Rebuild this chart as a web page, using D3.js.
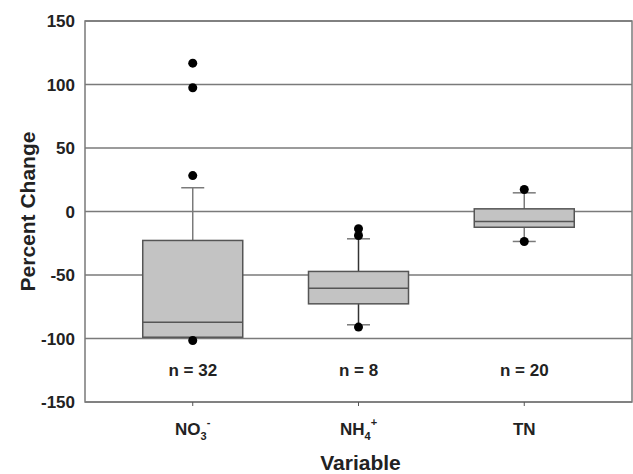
<!DOCTYPE html>
<html>
<head>
    <meta charset="UTF-8">
    <title>Percent Change box plot</title>
    <script src="https://d3js.org/d3.v7.min.js"></script>
    <style type="text/css">
        body { margin: 0; background: white; }
        text { font-family: "Liberation Sans", Arial, sans-serif; font-weight: bold; fill: #222; }
    </style>
</head>
<body>
    <svg id="chart"></svg>

    <script>
        const width = 633;
        const height = 474;
        const margins = { top: 21, bottom: 72, left: 85, right: 1 };

        // data
        const categories = ["NO3", "NH4", "TN"];
        const nLabels = ["n = 32", "n = 8", "n = 20"];
        const q1 = [-99, -72.7, -12.4];
        const median = [-87.2, -60.4, -7.9];
        const q3 = [-22.8, -47.2, 2.1];
        const whiskerLow = [-99, -89.2, -23.6];
        const whiskerHigh = [18.7, -21.5, 14.7];
        const outliers = [
            [116.8, 97.4, 28.3, -101.6],
            [-13.6, -18.9, -91],
            [17.3, -23.6]
        ];
        const yTicks = [-150, -100, -50, 0, 50, 100, 150];

        const svg = d3.select("#chart")
            .attr("width", width)
            .attr("height", height);

        const x = d3.scalePoint()
            .domain(categories)
            .range([margins.left, width - margins.right])
            .padding(0.65);

        const y = d3.scaleLinear()
            .domain([-150, 150])
            .range([height - margins.bottom, margins.top]);

        const boxWidth = 100;
        const capWidth = 23;
        const lineColor = "#7a7a7a";

        // gridlines
        svg.append("g")
            .selectAll("line")
            .data(yTicks)
            .join("line")
            .attr("x1", margins.left)
            .attr("x2", width - margins.right)
            .attr("y1", d => y(d))
            .attr("y2", d => y(d))
            .attr("stroke", lineColor)
            .attr("stroke-width", 1.5);

        // frame
        svg.append("rect")
            .attr("x", margins.left)
            .attr("y", margins.top)
            .attr("width", width - margins.right - margins.left)
            .attr("height", height - margins.bottom - margins.top)
            .attr("fill", "none")
            .attr("stroke", lineColor)
            .attr("stroke-width", 1.5);

        // y tick labels
        svg.append("g")
            .selectAll("text")
            .data(yTicks)
            .join("text")
            .attr("x", margins.left - 10)
            .attr("y", d => y(d))
            .attr("dy", "0.36em")
            .attr("text-anchor", "end")
            .style("font-size", "17px")
            .text(d => d);

        // x ticks
        svg.append("g")
            .selectAll("line")
            .data(categories)
            .join("line")
            .attr("x1", d => x(d))
            .attr("x2", d => x(d))
            .attr("y1", y(-150))
            .attr("y2", y(-150) + 4)
            .attr("stroke", "#555")
            .attr("stroke-width", 1);

        const boxes = svg.append("g")
            .selectAll("g")
            .data(categories)
            .join("g")
            .attr("transform", d => `translate(${x(d)},0)`);

        // whiskers
        boxes.append("line")
            .attr("y1", (d, i) => y(whiskerHigh[i]))
            .attr("y2", (d, i) => y(whiskerLow[i]))
            .attr("stroke", (d, i) => i === 1 ? "#333" : lineColor)
            .attr("stroke-width", 1.5);
        boxes.selectAll(".cap")
            .data((d, i) => [whiskerLow[i], whiskerHigh[i]])
            .join("line")
            .attr("class", "cap")
            .attr("x1", -capWidth / 2)
            .attr("x2", capWidth / 2)
            .attr("y1", v => y(v))
            .attr("y2", v => y(v))
            .attr("stroke", lineColor)
            .attr("stroke-width", 1.5);

        // boxes
        boxes.append("rect")
            .attr("x", -boxWidth / 2)
            .attr("width", boxWidth)
            .attr("y", (d, i) => y(q3[i]))
            .attr("height", (d, i) => y(q1[i]) - y(q3[i]))
            .attr("fill", "#c3c3c3")
            .attr("stroke", "#555")
            .attr("stroke-width", 1.5);
        boxes.append("line")
            .attr("x1", -boxWidth / 2)
            .attr("x2", boxWidth / 2)
            .attr("y1", (d, i) => y(median[i]))
            .attr("y2", (d, i) => y(median[i]))
            .attr("stroke", "#555")
            .attr("stroke-width", 1.5);

        // outliers
        boxes.selectAll(".outlier")
            .data((d, i) => outliers[i])
            .join("circle")
            .attr("class", "outlier")
            .attr("cy", v => y(v))
            .attr("r", 4.5)
            .attr("fill", "#000");

        // n labels
        boxes.append("text")
            .attr("y", y(-125))
            .attr("dy", "0.36em")
            .attr("text-anchor", "middle")
            .style("font-size", "17px")
            .text((d, i) => nLabels[i]);

        // category labels with sub/superscripts
        const catText = svg.append("g")
            .selectAll("text")
            .data(categories)
            .join("text")
            .attr("x", d => x(d))
            .attr("y", 435)
            .attr("text-anchor", "middle")
            .style("font-size", "17px");
        catText.each(function(d) {
            const t = d3.select(this);
            if (d === "NO3") {
                t.append("tspan").text("NO");
                t.append("tspan").attr("dy", 5).style("font-size", "11px").text("3");
                t.append("tspan").attr("dy", -14).style("font-size", "11px").text("-");
            } else if (d === "NH4") {
                t.append("tspan").text("NH");
                t.append("tspan").attr("dy", 5).style("font-size", "11px").text("4");
                t.append("tspan").attr("dy", -14).style("font-size", "11px").text("+");
            } else {
                t.text(d);
            }
        });

        // axis titles
        svg.append("text")
            .attr("x", (margins.left + width - margins.right) / 2 + 2)
            .attr("y", 470)
            .attr("text-anchor", "middle")
            .style("font-size", "21px")
            .text("Variable");

        svg.append("text")
            .attr("transform", `translate(35,${y(0)}) rotate(-90)`)
            .attr("text-anchor", "middle")
            .style("font-size", "21px")
            .text("Percent Change");
    </script>
</body>
</html>
